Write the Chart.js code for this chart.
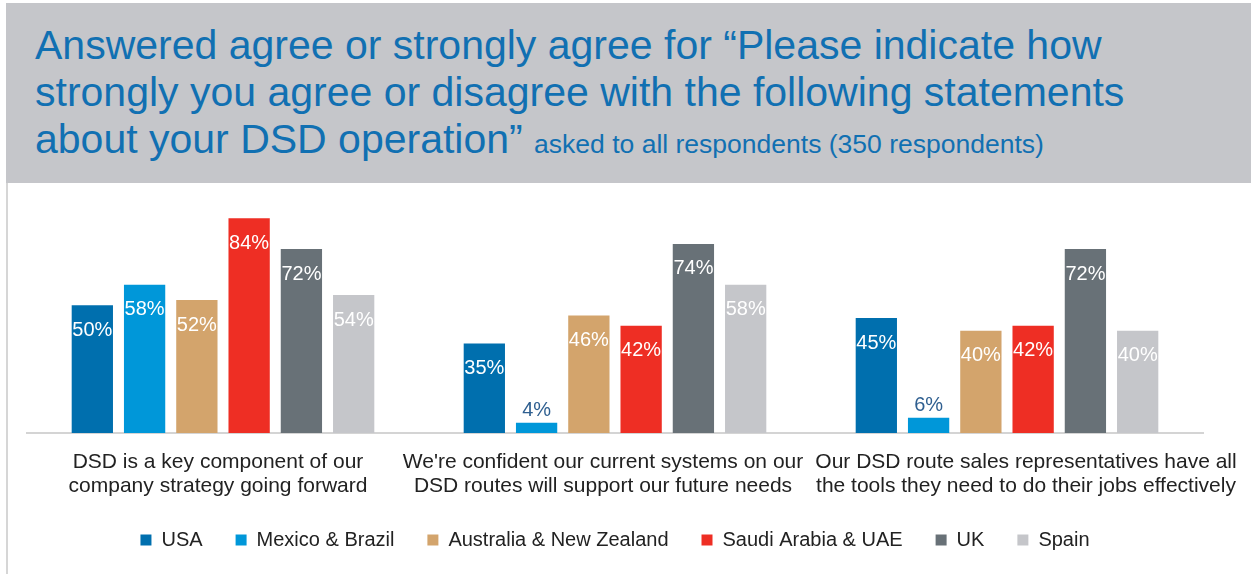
<!DOCTYPE html>
<html>
<head>
<meta charset="utf-8">
<script src="https://cdn.jsdelivr.net/npm/chart.js@4"></script>
<style>
  html, body { margin: 0; padding: 0; background: #fff; }
  body { width: 1251px; height: 574px; position: relative; overflow: hidden; font-family: "Liberation Sans", Arial, sans-serif; }
  #header {
    position: absolute; left: 6px; top: 3px; width: 1245px; height: 180px;
    background: #c5c6ca;
  }
  #header .t {
    position: absolute; left: 29px; top: 19px; color: #1170b2;
    font-size: 41px; line-height: 47px; white-space: nowrap;
  }
  #header .t small { font-size: 26.5px; }
  #leftline { position: absolute; left: 6px; top: 183px; width: 2px; height: 391px; background: #d6d6d6; }
  #wrap { position: absolute; left: 8px; top: 183px; width: 1243px; height: 391px; }
</style>
</head>
<body>
<div id="header">
  <div class="t">Answered agree or strongly agree for “Please indicate how<br>strongly you agree or disagree with the following statements<br>about your DSD operation” <small>asked to all respondents (350 respondents)</small></div>
</div>
<div id="leftline"></div>
<div id="wrap"><canvas id="grafico"></canvas></div>
<script>
// Datos
const categorias = [
    ['DSD is a key component of our', 'company strategy going forward'],
    ["We're confident our current systems on our", 'DSD routes will support our future needs'],
    ['Our DSD route sales representatives have all', 'the tools they need to do their jobs effectively']
]
const paises = ['USA', 'Mexico & Brazil', 'Australia & New Zealand', 'Saudi Arabia & UAE', 'UK', 'Spain']
const valoresUSA = [50, 35, 45]
const valoresMexico = [58, 4, 6]
const valoresAustralia = [52, 46, 40]
const valoresSaudi = [84, 42, 42]
const valoresUK = [72, 74, 72]
const valoresSpain = [54, 58, 40]

const colores = ['#006fae', '#0097d9', '#d3a46c', '#ee2e24', '#687177', '#c5c6ca']
const series = [valoresUSA, valoresMexico, valoresAustralia, valoresSaudi, valoresUK, valoresSpain]

// desplazamiento horizontal de los textos de categoria (cajas de texto del original)
const desplazamientoCategorias = [-5, -12, 19]
const fuente = '"Liberation Sans", Arial, sans-serif'

// etiquetas de porcentaje sobre cada barra + textos de categoria
const etiquetasPlugin = {
    id: 'etiquetas',
    afterDatasetsDraw(chart) {
        const ctx = chart.ctx
        ctx.save()
        ctx.font = '20px ' + fuente
        ctx.textAlign = 'center'
        ctx.textBaseline = 'middle'
        chart.data.datasets.forEach((ds, i) => {
            const meta = chart.getDatasetMeta(i)
            meta.data.forEach((bar, j) => {
                const v = ds.data[j]
                if (v < 10) {
                    ctx.fillStyle = '#2f5f90'
                    ctx.fillText(v + '%', bar.x, bar.y - 12)
                } else {
                    ctx.fillStyle = '#ffffff'
                    ctx.fillText(v + '%', bar.x, bar.y + 25)
                }
            })
        })

        // textos de categoria
        const xScale = chart.scales.x
        const base = chart.chartArea.bottom
        ctx.font = '21px ' + fuente
        ctx.fillStyle = '#222'
        categorias.forEach((lineas, i) => {
            const cx = xScale.getPixelForValue(i) + desplazamientoCategorias[i]
            lineas.forEach((linea, k) => {
                ctx.fillText(linea, cx, base + 29 + k * 24)
            })
        })
        ctx.restore()
    }
}

const miCanvas = document.getElementById('grafico')
new Chart(miCanvas, {
    type: 'bar',
    data: {
        labels: categorias,
        datasets: paises.map((p, i) => ({
            label: p,
            data: series[i],
            backgroundColor: colores[i],
            borderWidth: 0,
            categoryPercentage: 0.8,
            barPercentage: 0.79
        }))
    },
    options: {
        responsive: true,
        maintainAspectRatio: false,
        animation: false,
        events: [],
        layout: { padding: { left: 19, right: 48, top: 20, bottom: 14 } },
        scales: {
            x: {
                grid: { display: false },
                border: { display: true, color: '#d4d4d4', width: 2 },
                ticks: { display: false },
                afterFit(scale) { scale.height = 64 }
            },
            y: { display: false, min: 0, max: 90 }
        },
        plugins: {
            tooltip: { enabled: false },
            legend: {
                position: 'bottom',
                labels: {
                    color: '#222',
                    boxWidth: 11,
                    boxHeight: 11,
                    padding: 33,
                    font: { family: fuente, size: 20 }
                }
            }
        }
    },
    plugins: [etiquetasPlugin]
})
</script>
</body>
</html>
